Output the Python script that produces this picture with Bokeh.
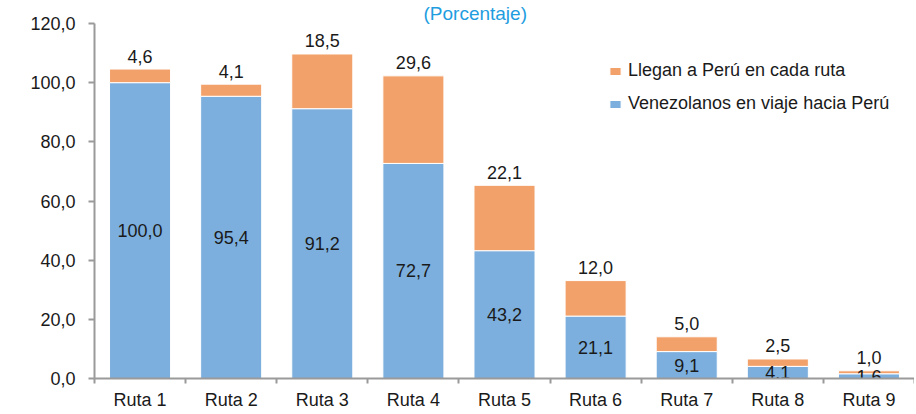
from bokeh.plotting import figure
from bokeh.models import (ColumnDataSource, Range1d, LinearAxis, FixedTicker, Legend,
                          LegendItem, Title)
from bokeh.core.properties import value
from bokeh.embed import file_html
from bokeh.resources import INLINE

# ---- data ----
categories = ["Ruta 1", "Ruta 2", "Ruta 3", "Ruta 4", "Ruta 5", "Ruta 6", "Ruta 7", "Ruta 8", "Ruta 9"]
venezolanos = [100.0, 95.4, 91.2, 72.7, 43.2, 21.1, 9.1, 4.1, 1.6]
llegan = [4.6, 4.1, 18.5, 29.6, 22.1, 12.0, 5.0, 2.5, 1.0]
series_names = ["Venezolanos en viaje hacia Perú", "Llegan a Perú en cada ruta"]
y_ticks = [0, 20, 40, 60, 80, 100, 120]
y_tick_labels = ["0,0", "20,0", "40,0", "60,0", "80,0", "100,0", "120,0"]
title_text = "(Porcentaje)"

FONT = "Liberation Sans"
BLUE = "#7CAFDD"
ORANGE = "#F2A16A"
AXIS_GRAY = "#9a9a9a"
TEXT = "#1a1a1a"


def fmt(v):
    return f"{v:.1f}".replace(".", ",")


n = len(categories)
pos = list(range(n))  # category slots on the x scale

src = ColumnDataSource(dict(
    pos=pos,
    cat=categories,
    ven=venezolanos,
    lle=llegan,
    ven_mid=[v / 2 for v in venezolanos],
    total=[v + o for v, o in zip(venezolanos, llegan)],
    ven_lbl=[fmt(v) for v in venezolanos],
    lle_lbl=[fmt(v) for v in llegan],
))

p = figure(width=914, height=412, output_backend="svg", toolbar_location=None,
           x_range=Range1d(-0.5, n - 0.5), y_range=Range1d(0, 120),
           x_axis_location=None, y_axis_location=None,
           min_border_left=94, min_border_right=0, min_border_top=23, min_border_bottom=34,
           outline_line_color=None, background_fill_color="white", border_fill_color="white")
p.grid.grid_line_color = None

p.title = Title(text=title_text, align="left", offset=329, standoff=0,
                text_font=FONT, text_font_size="19px", text_font_style="normal",
                text_color="#1E9DE0")

rs = p.vbar_stack(["ven", "lle"], x="pos", width=0.67, source=src,
                  color=[BLUE, ORANGE], line_color="white", line_width=1)

# value labels
p.text(x="pos", y="ven_mid", text="ven_lbl", source=src, text_align="center",
       text_baseline="middle", text_font=value(FONT), text_font_size="18px", text_color=TEXT)
p.text(x="pos", y="total", text="lle_lbl", source=src, text_align="center",
       text_baseline="middle", y_offset=-13, text_font=value(FONT), text_font_size="18px",
       text_color=TEXT)

# y axis
yax = LinearAxis(ticker=FixedTicker(ticks=y_ticks),
                 major_label_overrides={t: l for t, l in zip(y_ticks, y_tick_labels)},
                 axis_line_color=AXIS_GRAY, axis_line_width=2,
                 major_tick_line_color=AXIS_GRAY, major_tick_line_width=2,
                 major_tick_out=6, major_tick_in=0, minor_tick_line_color=None,
                 major_label_standoff=13, major_label_text_font=FONT,
                 major_label_text_font_size="18px", major_label_text_color=TEXT)
p.add_layout(yax, "left")

# x axis: labels at category centres, tick marks at category boundaries
xax = LinearAxis(ticker=FixedTicker(ticks=pos, minor_ticks=[i - 0.5 for i in range(n + 1)]),
                 major_label_overrides={i: c for i, c in zip(pos, categories)},
                 axis_line_color=AXIS_GRAY, axis_line_width=2,
                 major_tick_line_color=None, major_tick_out=0, major_tick_in=0,
                 minor_tick_line_color=AXIS_GRAY, minor_tick_line_width=2,
                 minor_tick_out=5, minor_tick_in=0,
                 major_label_standoff=6, major_label_text_font=FONT,
                 major_label_text_font_size="18px", major_label_text_color=TEXT)
p.add_layout(xax, "below")

# legend
legend = Legend(items=[LegendItem(label=series_names[1], renderers=[rs[1]]),
                       LegendItem(label=series_names[0], renderers=[rs[0]])],
                location=(514, 264), orientation="vertical",
                glyph_width=14, glyph_height=10, label_height=21, spacing=12,
                label_standoff=6, padding=0, margin=0,
                border_line_color=None, background_fill_alpha=0,
                label_text_font=FONT, label_text_font_size="18px", label_text_color=TEXT)
p.add_layout(legend, "center")

open("out.html", "w").write(file_html(p, INLINE))
